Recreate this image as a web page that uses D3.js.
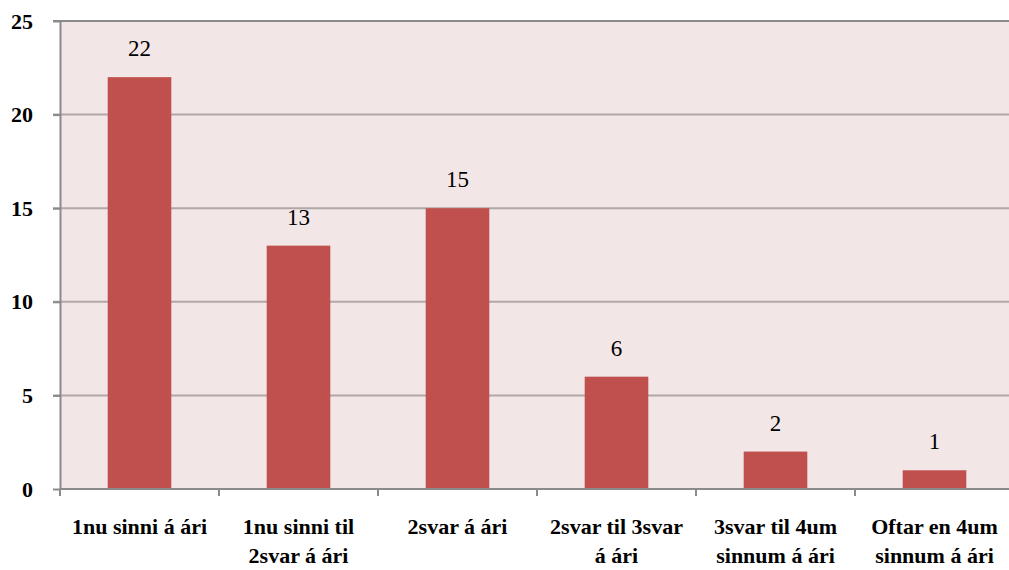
<!DOCTYPE html>
<html>
<head>
<meta charset="utf-8">
<script src="https://cdn.jsdelivr.net/npm/d3@7"></script>
<style>
  body { margin: 0; background: #fff; }
</style>
</head>
<body>
<div id="chart"></div>
<script>
// categories (each label split into its lines) and values
const categories = ["1nu sinni á ári", "1nu sinni til 2svar á ári", "2svar á ári",
    "2svar til 3svar á ári", "3svar til 4um sinnum á ári", "Oftar en 4um sinnum á ári"];
const labelLines = [
    ["1nu sinni á ári"],
    ["1nu sinni til", "2svar á ári"],
    ["2svar á ári"],
    ["2svar til 3svar", "á ári"],
    ["3svar til 4um", "sinnum á ári"],
    ["Oftar en 4um", "sinnum á ári"]
];
const values = [22, 13, 15, 6, 2, 1];
const yTicks = [0, 5, 10, 15, 20, 25];

var width = 1009;
var height = 570;
var margin = { top: 21, right: -5, bottom: 81, left: 60 };

var svg = d3.select("#chart")
    .append("svg")
    .attr("width", width)
    .attr("height", height);

var x = d3.scaleBand()
    .domain(categories)
    .range([margin.left, width - margin.right])
    .paddingInner(0.6)
    .paddingOuter(0.3);

var xb = d3.scaleBand()
    .domain(categories)
    .range([margin.left, width - margin.right]);

var y = d3.scaleLinear()
    .domain([0, 25])
    .range([height - margin.bottom, margin.top]);

// plot background
svg.append("rect")
    .attr("x", margin.left)
    .attr("y", margin.top)
    .attr("width", width - margin.right - margin.left)
    .attr("height", y(0) - margin.top)
    .attr("fill", "#f2e6e6");

// gridlines
svg.selectAll(".grid")
    .data(yTicks.filter(d => d > 0))
    .enter()
    .append("line")
    .attr("x1", margin.left - 7)
    .attr("x2", width)
    .attr("y1", d => y(d))
    .attr("y2", d => y(d))
    .attr("stroke", d => d == 25 ? "#8a8a8a" : "#b0a8a8")
    .attr("stroke-width", 2);

// bars
svg.selectAll(".bar")
    .data(values)
    .enter()
    .append("rect")
    .attr("x", (d, i) => x(categories[i]))
    .attr("y", d => y(d))
    .attr("width", x.bandwidth())
    .attr("height", d => y(0) - y(d))
    .attr("fill", "#c0504d");

// value labels
svg.selectAll(".val")
    .data(values)
    .enter()
    .append("text")
    .attr("x", (d, i) => x(categories[i]) + x.bandwidth() / 2)
    .attr("y", d => y(d) - 21)
    .attr("text-anchor", "middle")
    .style("font-family", "'Liberation Serif', serif")
    .style("font-size", "23px")
    .attr("fill", "#000")
    .text(d => d);

// y axis
var yAxis = svg.append("g")
    .attr("transform", "translate(" + margin.left + ",0)")
    .call(d3.axisLeft(y).tickValues(yTicks).tickSize(7).tickSizeOuter(0).tickPadding(20));
yAxis.select(".domain").attr("stroke", "#8a8a8a").attr("stroke-width", 2);
yAxis.selectAll(".tick line").attr("stroke", "#8a8a8a").attr("stroke-width", 2);
yAxis.selectAll(".tick text")
    .style("font-family", "'Liberation Serif', serif")
    .style("font-weight", "bold")
    .style("font-size", "22px")
    .attr("fill", "#000");

// x axis
svg.append("line")
    .attr("x1", margin.left)
    .attr("x2", width)
    .attr("y1", y(0))
    .attr("y2", y(0))
    .attr("stroke", "#8a8a8a")
    .attr("stroke-width", 2);

svg.selectAll(".xtick")
    .data(categories)
    .enter()
    .append("line")
    .attr("x1", d => xb(d))
    .attr("x2", d => xb(d))
    .attr("y1", y(0))
    .attr("y2", y(0) + 7)
    .attr("stroke", "#8a8a8a")
    .attr("stroke-width", 2);

var xl = svg.selectAll(".xlab")
    .data(categories)
    .enter()
    .append("text")
    .attr("text-anchor", "middle")
    .style("font-family", "'Liberation Serif', serif")
    .style("font-weight", "bold")
    .style("font-size", "22px")
    .attr("fill", "#000");

xl.selectAll("tspan")
    .data((d, i) => labelLines[i].map(t => ({ t: t, c: d })))
    .enter()
    .append("tspan")
    .attr("x", d => xb(d.c) + xb.bandwidth() / 2)
    .attr("y", (d, j) => 534 + j * 29)
    .text(d => d.t);
</script>
</body>
</html>
